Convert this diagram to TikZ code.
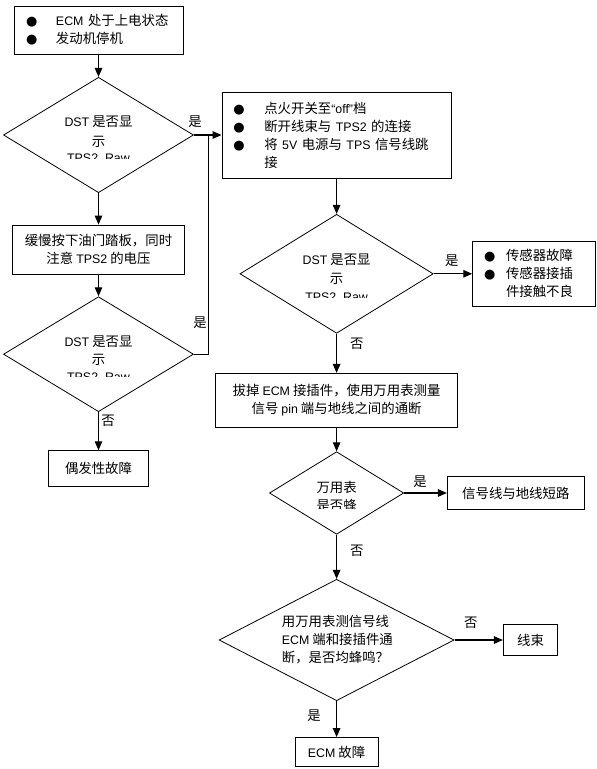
\documentclass[tikz,border=0pt]{standalone}
\usepackage{fontspec}
\setmainfont{Noto Sans CJK SC}
\newfontfamily\latfont[Scale=0.925]{Liberation Sans}
\newfontfamily\symfont{DejaVu Sans}
\usetikzlibrary{shapes.geometric,arrows.meta}
\newcommand\la[1]{{\latfont #1}}
\newcommand\bul[1]{\makebox[#1][l]{\symfont\fontsize{13}{13}\selectfont ●}}
\setlength{\parindent}{0pt}
\begin{document}
\begin{tikzpicture}[x=1pt,y=-1pt,
  every node/.style={font=\fontsize{13.4}{18}\selectfont},
  box/.style={draw,line width=0.8pt,inner sep=0pt},
  dia/.style={draw,diamond,line width=0.8pt,inner sep=0pt},
  arr/.style={line width=1.2pt,-{Triangle[length=9pt,width=7.5pt]}},
  conn/.style={line width=1.2pt},
  lbl/.style={inner sep=0pt,text height=10pt,text depth=3pt},
  ]
\useasboundingbox (0,0) rectangle (597,769);
% boxes
\node[box,minimum width=169pt,minimum height=48pt,text width=145pt,align=left] (b1) at (98.5,30)
  {\bul{30pt}\la{ECM} 处于上电状态\\\bul{30pt}发动机停机};
\node[box,minimum width=171.6pt,minimum height=49pt,align=center] (b2) at (98.5,249.5)
  {缓慢按下油门踏板，同时\\注意 \la{TPS2} 的电压};
\node[box,minimum width=99.3pt,minimum height=35.3pt] (b3) at (98.5,468.3) {偶发性故障};
\node[box,minimum width=229.3pt,minimum height=86pt,text width=206.6pt,align=left] (b4) at (336.6,135)
  {\bul{31pt}点火开关至\la{“off”}档\\\bul{31pt}断开线束与 \la{TPS2} 的连接\\\bul{31pt}将 \la{5V} 电源与 \la{TPS} 信号线跳\\\hspace*{31pt}接};
\node[box,minimum width=122.3pt,minimum height=64.3pt,text width=99.6pt,align=left] (b5) at (533.8,273.8)
  {\bul{22pt}传感器故障\\\bul{22pt}传感器接插\\\hspace*{22pt}件接触不良};
\node[box,minimum width=241.7pt,minimum height=54.3pt,align=center] (b6) at (336.6,400.5)
  {拔掉 \la{ECM} 接插件，使用万用表测量\\信号 \la{pin} 端与地线之间的通断};
\node[box,minimum width=137pt,minimum height=33.3pt] (b7) at (515.8,493) {信号线与地线短路};
\node[box,minimum width=54.3pt,minimum height=30.7pt] (b8) at (530.5,640) {线束};
\node[box,minimum width=82.7pt,minimum height=29pt] (b9) at (336.6,752) {\la{ECM} 故障};
% diamonds
\node[dia,minimum width=190pt,minimum height=115.4pt] (d1) at (98.5,135) {};
\node[dia,minimum width=190pt,minimum height=115pt] (d2) at (98.5,354.2) {};
\node[dia,minimum width=193.3pt,minimum height=119pt] (d3) at (336.6,273.8) {};
\node[dia,minimum width=134.3pt,minimum height=82.6pt] (d4) at (336.6,493) {};
\node[dia,minimum width=235pt,minimum height=121.4pt] (d5) at (336.6,640) {};
% diamond texts (clipped as printed)
\begin{scope}
\clip (0,0) rectangle (597,158);
\node[lbl] (d1a) at (98.5,123) {\la{DST} 是否显};
\node[lbl] (d1b) at (98.5,143) {示};
\node[lbl] (d1c) at (98.5,158.5) {\la{TPS2\_Raw}};
\end{scope}
\begin{scope}
\clip (0,200) rectangle (597,376.7);
\node[lbl] (d2a) at (98.5,342.7) {\la{DST} 是否显};
\node[lbl] (d2b) at (98.5,361) {示};
\node[lbl] (d2c) at (98.5,377.5) {\la{TPS2\_Raw}};
\end{scope}
\begin{scope}
\clip (0,200) rectangle (597,297);
\node[lbl] (d3a) at (336.6,261) {\la{DST} 是否显};
\node[lbl] (d3b) at (336.6,280) {示};
\node[lbl] (d3c) at (336.6,297.5) {\la{TPS2\_Raw}};
\end{scope}
\begin{scope}
\clip (0,440) rectangle (597,508);
\node[lbl] (d4a) at (336.6,489.3) {万用表};
\node[lbl] (d4b) at (336.6,507.3) {是否蜂};
\end{scope}
\node[inner sep=0pt,align=left,anchor=west] (d5t) at (281.7,639.5)
  {用万用表测信号线\\\la{ECM} 端和接插件通\\断，是否均蜂鸣？};
% connectors
\coordinate (j) at (208.3,135);
\draw[arr] (b1.south) -- (d1.north);
\draw[arr] (d1.east) -- (b4.west);
\draw[arr] (d1.south) -- (b2.north);
\draw[arr] (b2.south) -- (d2.north);
\draw[arr] (d2.south) -- (b3.north);
\draw[conn] (d2.east) -| (j);
\draw[arr] (b4.south) -- (d3.north);
\draw[arr] (d3.east) -- (b5.west);
\draw[arr] (d3.south) -- (b6.north);
\draw[arr] (b6.south) -- (d4.north);
\draw[arr] (d4.east) -- (b7.west);
\draw[arr] (d4.south) -- (d5.north);
\draw[arr] (d5.east) -- (b8.west);
\draw[arr] (d5.south) -- (b9.north);
% labels
\node[lbl] (l1) at (195,123) {是};
\node[lbl] (l2) at (200,324) {是};
\node[lbl] (l3) at (108,421.5) {否};
\node[lbl] (l4) at (451.7,261.5) {是};
\node[lbl] (l5) at (356.7,344.5) {否};
\node[lbl] (l6) at (420,482.5) {是};
\node[lbl] (l7) at (356.7,551.5) {否};
\node[lbl] (l8) at (470.7,624) {否};
\node[lbl] (l9) at (314,717) {是};
\end{tikzpicture}
\end{document}
